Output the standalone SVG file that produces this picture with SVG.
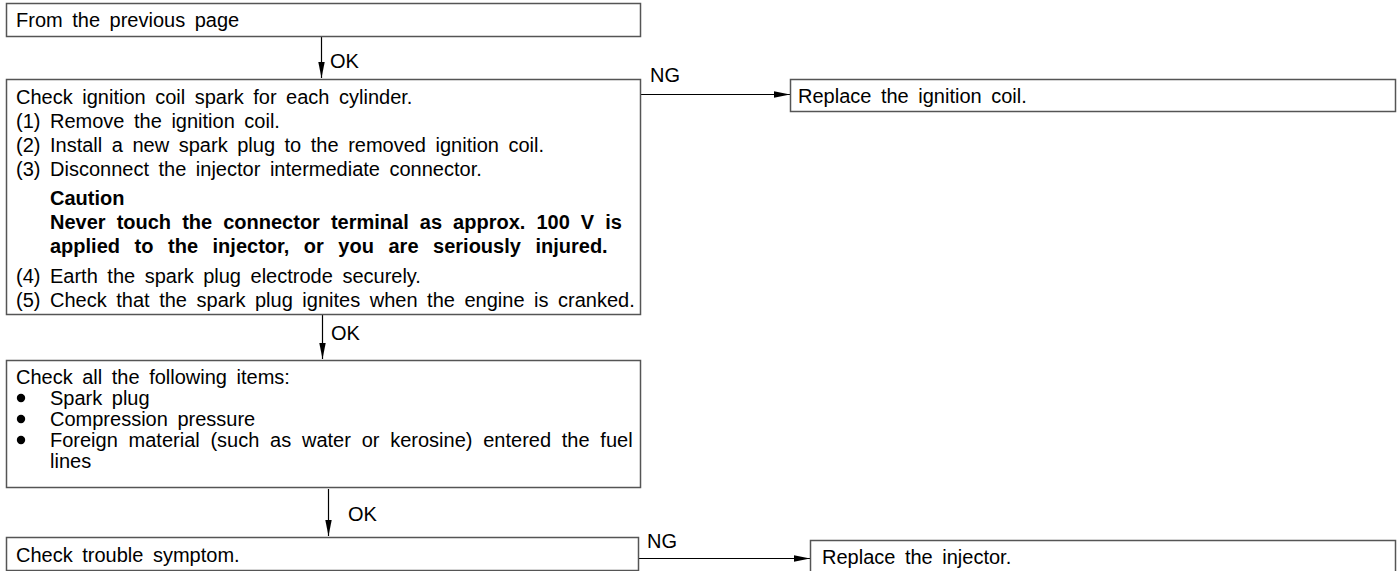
<svg xmlns="http://www.w3.org/2000/svg" width="1399" height="571" viewBox="0 0 1399 571">
  <style>
    .box { fill: #ffffff; stroke: #555555; stroke-width: 1.5; }
    .txt { font-family: "Liberation Sans", Arial, sans-serif; font-size: 20px; fill: #000000; word-spacing: 4px; }
    .bold { font-weight: bold; }
    .wire { fill: none; stroke: #000000; stroke-width: 1.2; }
  </style>
  <defs>
    <marker id="arrow" markerUnits="userSpaceOnUse" markerWidth="16" markerHeight="8" refX="16" refY="4" orient="auto">
      <path d="M0,0.8 L16,4 L0,7.2 Z" fill="#000000"/>
    </marker>
  </defs>

  <rect width="1399" height="571" fill="#ffffff"/>

  <!-- connectors -->
  <g id="connectors">
    <line class="wire" x1="321.5" y1="37" x2="321.5" y2="78" marker-end="url(#arrow)"/>
    <text class="txt" x="330" y="68">OK</text>

    <line class="wire" x1="641" y1="94.5" x2="790" y2="94.5" marker-end="url(#arrow)"/>
    <text class="txt" x="650" y="82">NG</text>

    <line class="wire" x1="322.5" y1="315" x2="322.5" y2="359" marker-end="url(#arrow)"/>
    <text class="txt" x="331" y="340">OK</text>

    <line class="wire" x1="328.5" y1="489" x2="328.5" y2="536" marker-end="url(#arrow)"/>
    <text class="txt" x="348" y="521">OK</text>

    <line class="wire" x1="639" y1="558.5" x2="810" y2="558.5" marker-end="url(#arrow)"/>
    <text class="txt" x="647" y="548">NG</text>
  </g>

  <g id="from-previous">
    <rect class="box" x="6.5" y="3.5" width="634" height="33"/>
    <text class="txt" x="16" y="27">From the previous page</text>
  </g>

  <g id="check-coil-spark">
    <rect class="box" x="6.5" y="79.5" width="634" height="235"/>
    <text class="txt" x="16" y="104">Check ignition coil spark for each cylinder.</text>
    <text class="txt" x="16" y="128">(1) Remove the ignition coil.</text>
    <text class="txt" x="16" y="152">(2) Install a new spark plug to the removed ignition coil.</text>
    <text class="txt" x="16" y="176">(3) Disconnect the injector intermediate connector.</text>
    <text class="txt bold" x="50" y="205">Caution</text>
    <text class="txt bold" x="50" y="229" style="word-spacing:5.5px">Never touch the connector terminal as approx. 100 V is</text>
    <text class="txt bold" x="50" y="253" style="word-spacing:9px">applied to the injector, or you are seriously injured.</text>
    <text class="txt" x="16" y="283">(4) Earth the spark plug electrode securely.</text>
    <text class="txt" x="16" y="307">(5) Check that the spark plug ignites when the engine is cranked.</text>
  </g>

  <g id="replace-coil">
    <rect class="box" x="790.5" y="79.5" width="605" height="32"/>
    <text class="txt" x="798" y="103">Replace the ignition coil.</text>
  </g>

  <g id="check-items">
    <rect class="box" x="6.5" y="360.5" width="634" height="127"/>
    <text class="txt" x="16" y="384">Check all the following items:</text>
    <circle cx="21" cy="398" r="4.2" fill="#000000"/>
    <text class="txt" x="50" y="405">Spark plug</text>
    <circle cx="21" cy="419" r="4.2" fill="#000000"/>
    <text class="txt" x="50" y="426">Compression pressure</text>
    <circle cx="21" cy="440" r="4.2" fill="#000000"/>
    <text class="txt" x="50" y="447" style="word-spacing:5.2px">Foreign material (such as water or kerosine) entered the fuel</text>
    <text class="txt" x="50" y="468">lines</text>
  </g>

  <g id="check-symptom">
    <rect class="box" x="6.5" y="537.5" width="632" height="33"/>
    <text class="txt" x="16" y="562">Check trouble symptom.</text>
  </g>

  <g id="replace-injector">
    <rect class="box" x="810.5" y="540.5" width="585" height="40"/>
    <text class="txt" x="822" y="564">Replace the injector.</text>
  </g>
</svg>
